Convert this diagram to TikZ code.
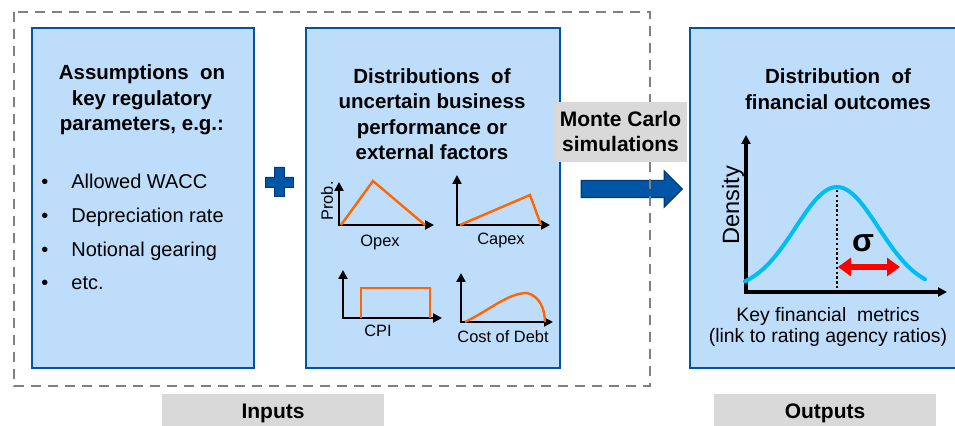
\documentclass[tikz,border=0pt]{standalone}
\usepackage{fontspec}
\setmainfont{Liberation Sans}
\usetikzlibrary{arrows.meta,shapes.arrows}
\definecolor{panelfill}{RGB}{189,221,251}
\definecolor{paneledge}{RGB}{0,84,166}
\definecolor{blockfill}{RGB}{0,86,166}
\definecolor{blockedge}{RGB}{0,58,118}
\definecolor{barfill}{RGB}{217,217,217}
\definecolor{dashgray}{RGB}{128,128,128}
\definecolor{pdforange}{RGB}{255,102,0}
\definecolor{bellcyan}{RGB}{0,190,243}

\begin{document}
\begin{tikzpicture}[x=0.5pt,y=-0.5pt,
  panel/.style={draw=paneledge,fill=panelfill,line width=1.2pt,inner sep=0pt,
    anchor=north west,minimum height=170pt},
  labelbar/.style={fill=barfill,inner sep=0pt,minimum width=111pt,minimum height=19pt,
    font=\fontsize{10.5}{12}\selectfont\bfseries},
  heading/.style={align=center,inner sep=0pt,font=\fontsize{10.25}{12.75}\selectfont\bfseries},
  small/.style={inner sep=0pt,font=\fontsize{8.2}{10}\selectfont},
  axisline/.style={line width=1.4pt,{Triangle[length=4.5pt,width=4.5pt]}-{Triangle[length=4.5pt,width=4.5pt]}},
  pdfline/.style={pdforange,line width=1.2pt}]
  \useasboundingbox (0,0) rectangle (955,426);

  % the three panels
  \node[panel,minimum width=111pt] (assume) at (31,27) {};
  \node[panel,minimum width=127pt] (dists) at (305,27) {};
  \node[panel,minimum width=143pt] (outcomes) at (689,27) {};

  \node[heading] (assumetitle) at (142,100) {Assumptions \ on\\key regulatory\\parameters, e.g.:};
  \foreach \y/\t [count=\i] in {189/Allowed WACC,223/Depreciation rate,257/Notional gearing,290/etc.}{
    \node[inner sep=0pt,anchor=base] (dot\i) at (45,\y) {\textbullet};
    \node[inner sep=0pt,anchor=base west,font=\fontsize{10}{12}\selectfont] (item\i) at (71,\y) {\t};
  }

  % plus between the input panels
  \draw[fill=blockfill,draw=blockedge,line width=0.4pt] (274,167) -- (284,167) -- (284,177) -- (293,177)
    -- (293,187) -- (284,187) -- (284,196) -- (274,196) -- (274,187) -- (265,187) -- (265,177)
    -- (274,177) -- cycle;

  \node[heading] (diststitle) at (432,114) {Distributions \ of\\uncertain business\\performance or\\external factors};

  % four small input distributions
  \draw[axisline] (339,182) |- (434,225);
  \draw[pdfline] (341,225) -- (373,181) -- (425,225);
  \node[small,rotate=90] (problbl) at (327,201) {Prob.};
  \node[small] (opexlbl) at (380,242) {Opex};

  \draw[axisline] (457,175) |- (550,225);
  \draw[pdfline] (460,225) -- (530,195) -- (541,225);
  \node[small] (capexlbl) at (501,240) {Capex};

  \draw[axisline] (343,270) |- (442,318);
  \draw[pdfline] (361,318) -- (361,288) -- (430,288) -- (430,318);
  \node[small] (cpilbl) at (378,331) {CPI};

  \draw[axisline] (461,273) |- (553,322);
  \draw[pdfline] (465,322) .. controls (490,310) and (508,293) .. (527,293)
    .. controls (540,296) and (545,310) .. (545,322);
  \node[small] (debtlbl) at (503,337) {Cost of Debt};

  % simulation step
  \node[single arrow,fill=blockfill,draw=blockedge,line width=0.6pt,inner sep=4pt,
    minimum height=50.5pt,single arrow head extend=4.75pt] (mcarrow) at (627.5,189) {};
  \draw[dashgray,line width=1pt,dash pattern=on 5pt off 3.5pt] (14,12) rectangle (650,386);
  \node[fill=barfill,inner sep=0pt,minimum width=66.5pt,minimum height=30pt,align=center,
    font=\fontsize{10.5}{12.5}\selectfont\bfseries] (mc) at (620.5,132) {Monte Carlo\\simulations};

  % output distribution
  \node[heading] (outtitle) at (838,89) {Distribution \ of\\financial outcomes};
  \draw[axisline,line width=1.6pt] (746,135) |- (947,292);
  \node[inner sep=0pt,rotate=90,font=\fontsize{11.8}{13}\selectfont] (densitylbl) at (733,205) {Density};
  \draw[bellcyan,line width=2pt,line cap=round] plot[domain=745:925,samples=60,smooth]
    (\x,{290-103*exp(-((\x-837)^2)/3430)});
  \draw[line width=1.2pt,dash pattern=on 1.2pt off 1.2pt] (837,190) -- (837,288);
  \draw[red,line width=3pt,{Triangle[length=6.5pt,width=9pt]}-{Triangle[length=6.5pt,width=9pt]}]
    (838,267) -- (900,267);
  \node[inner sep=0pt,font=\fontsize{16}{18}\selectfont\bfseries] (sigma) at (863,243) {σ};
  \node[inner sep=0pt,align=center,font=\fontsize{9.7}{10.5}\selectfont] (metrics) at (828,327)
    {Key financial \ metrics\\(link to rating agency ratios)};

  % bottom labels
  \node[labelbar] (inputs) at (273,413) {Inputs};
  \node[labelbar] (outputs) at (825,413) {Outputs};
\end{tikzpicture}
\end{document}
